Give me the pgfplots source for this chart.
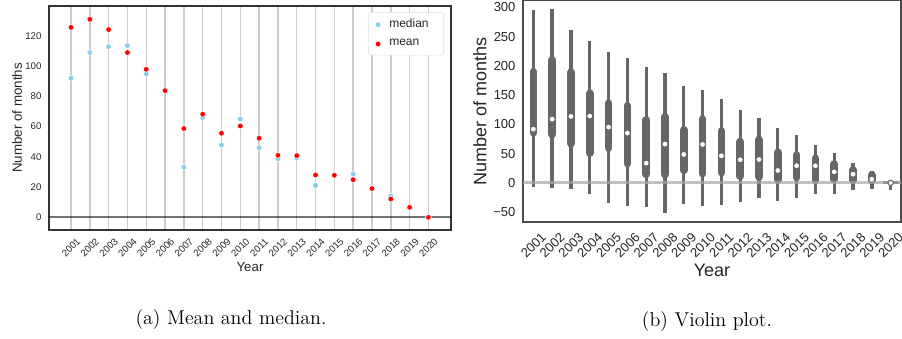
\documentclass[border=0pt]{standalone}
\usepackage{fontspec}
\usepackage{pgfplots}
\pgfplotsset{compat=1.18}
\newfontfamily\arial{Liberation Sans}
\definecolor{skyb}{RGB}{135,206,235}
\definecolor{vgray}{RGB}{102,102,102}
\definecolor{txt}{RGB}{38,38,38}
\begin{document}
\begin{tikzpicture}
\useasboundingbox (0,0) rectangle (541.2pt,-203.4pt);
% ---------------- (a) ----------------
\begin{axis}[
  at={(29.4pt,-138pt)}, anchor=south west, scale only axis,
  width=241.2pt, height=134.4pt,
  xmin=-1.17, xmax=20.2, ymin=-8.4, ymax=139.8,
  xtick={0,1,2,3,4,5,6,7,8,9,10,11,12,13,14,15,16,17,18,19},
  xticklabels={2001,2002,2003,2004,2005,2006,2007,2008,2009,2010,2011,2012,2013,2014,2015,2016,2017,2018,2019,2020},
  ytick={0,20,40,60,80,100,120},
  /pgf/number format/assume math mode=true,
  major tick length=0pt,
  tick label style={font=\arial\fontsize{5.8}{7}\selectfont, text=txt},
  xticklabel style={yshift=-10.5pt, rotate=45, anchor=center},
  yticklabel style={xshift=-1pt},
  xmajorgrids, major grid style={black!20, line width=0.9pt},
  axis line style={black!80, line width=0.9pt},
  xlabel={Year}, ylabel={Number of months},
  label style={font=\arial\fontsize{8}{9.5}\selectfont, text=txt},
  xlabel style={at={(axis description cs:0.5,-0.164)}, anchor=center},
  ylabel style={at={(axis description cs:-0.0796,0.5)}, anchor=center, rotate=0},
  legend style={at={(1,1)}, anchor=north east, xshift=-4.2pt, yshift=-3.6pt,
    draw=black!12, rounded corners=1.5pt, font=\arial\fontsize{7.2}{8.5}\selectfont,
    text=txt, inner xsep=4pt, inner ysep=2pt, row sep=1.6pt,
    nodes={inner xsep=5pt}},
  legend cell align=left,
  legend image code/.code={\draw[#1] plot coordinates {(0.2cm,0cm)};},
]
\addplot[only marks, mark=*, mark size=1.7pt, mark options={fill=skyb, draw=white, line width=0.3pt}]
coordinates {(0,92.0) (1,109.0) (2,112.9) (3,113.6) (4,94.9) (5,83.8) (6,33.1) (7,66.0) (8,47.9) (9,65.1)
 (10,46.1) (11,38.8) (12,39.3) (13,21.0) (14,27.8) (15,28.7) (16,19.0) (17,14.1) (18,6.6) (19,0)};
\addlegendentry{median}
\addplot[only marks, mark=*, mark size=1.7pt, mark options={fill=red, draw=white, line width=0.3pt}]
coordinates {(0,125.7) (1,131.0) (2,124.2) (3,109.0) (4,97.9) (5,83.8) (6,58.7) (7,68.2) (8,55.6) (9,60.4)
 (10,52.3) (11,41.0) (12,40.8) (13,28.0) (14,27.8) (15,24.9) (16,19.0) (17,12.1) (18,6.6) (19,0)};
\addlegendentry{mean}
\addplot[black, opacity=0.55, line width=1.1pt, forget plot] coordinates {(-1.17,0) (20.2,0)};
\end{axis}
\node[font=\fontsize{12}{14}\selectfont] at (138.6pt,-192pt) {(a) Mean and median.};
% ---------------- (b) ----------------
\begin{axis}[
  at={(313.8pt,-133.2pt)}, anchor=south west, scale only axis,
  width=226.8pt, height=133.2pt,
  xmin=-0.55, xmax=19.55, ymin=-67, ymax=312.5,
  xtick={0,1,2,3,4,5,6,7,8,9,10,11,12,13,14,15,16,17,18,19},
  xticklabels={2001,2002,2003,2004,2005,2006,2007,2008,2009,2010,2011,2012,2013,2014,2015,2016,2017,2018,2019,2020},
  ytick={-50,0,50,100,150,200,250,300},
  yticklabels={−50,0,50,100,150,200,250,300},
  major tick length=0pt,
  tick label style={font=\arial\fontsize{7.8}{9}\selectfont, text=txt},
  xticklabel style={yshift=-13.8pt, rotate=45, anchor=center},
  yticklabel style={xshift=-1pt},
  axis line style={black!70, line width=0.8pt},
  xlabel={Year}, ylabel={Number of months},
  label style={font=\arial\fontsize{10.8}{12}\selectfont, text=txt},
  xlabel style={at={(axis description cs:0.5,-0.216)}, anchor=center},
  ylabel style={at={(axis description cs:-0.114,0.5)}, anchor=center, rotate=0},
]
% whiskers (min to max)
\addplot[vgray, line width=2pt, unbounded coords=jump] coordinates {
 (0,-6.8) (0,295.4) (0,nan)
 (1,-9.7) (1,296.6) (1,nan)
 (2,-11.4) (2,261.2) (2,nan)
 (3,-19.4) (3,242.4) (3,nan)
 (4,-34.2) (4,224.1) (4,nan)
 (5,-39.9) (5,213.9) (5,nan)
 (6,-41.1) (6,198.5) (6,nan)
 (7,-51.3) (7,188.2) (7,nan)
 (8,-35.4) (8,165.4) (8,nan)
 (9,-39.9) (9,158.6) (9,nan)
 (10,-38.2) (10,143.2) (10,nan)
 (11,-32.5) (11,124.3) (11,nan)
 (12,-26.8) (12,111.2) (12,nan)
 (13,-31.9) (13,94.1) (13,nan)
 (14,-26.2) (14,81.0) (14,nan)
 (15,-18.3) (15,65.0) (15,nan)
 (16,-19.4) (16,50.8) (16,nan)
 (17,-12.5) (17,33.1) (17,nan)
 (18,-10.8) (18,20.0) (18,nan)
 (19,-12.5) (19,4.6)
};
% interquartile boxes
\addplot[vgray, line width=4.6pt, line cap=round, unbounded coords=jump] coordinates {
 (0,85.5) (0,190) (0,nan)
 (1,82.5) (1,210) (1,nan)
 (2,67) (2,189) (2,nan)
 (3,51) (3,153) (3,nan)
 (4,59.5) (4,136) (4,nan)
 (5,32.8) (5,132) (5,nan)
 (6,14.6) (6,107.5) (6,nan)
 (7,14) (7,113) (7,nan)
 (8,21.4) (8,90.4) (8,nan)
 (9,15.7) (9,109.2) (9,nan)
 (10,17.4) (10,88.7) (10,nan)
 (11,11.2) (11,70.4) (11,nan)
 (12,10) (12,73.8) (12,nan)
 (13,5.5) (13,52.2) (13,nan)
 (14,8.9) (14,47.6) (14,nan)
 (15,4.3) (15,41.9) (15,nan)
 (16,6) (16,32.2) (16,nan)
 (17,4.3) (17,21.9) (17,nan)
 (18,4.3) (18,13.4)
};
% 2020 flat body
\addplot[vgray, line width=1.6pt] coordinates {(18.58,0) (19.45,0)};
% zero line
\addplot[black!35, opacity=0.7, line width=1.8pt] coordinates {(-0.55,0) (19.55,0)};
% medians
\addplot[only marks, mark=*, mark size=1.3pt, mark options={fill=white, draw=white, line width=0.2pt}]
coordinates {(0,91.8) (1,108.9) (2,113.5) (3,114.1) (4,95.2) (5,85.0) (6,33.6) (7,66.2) (8,48.5) (9,65.6)
 (10,46.2) (11,39.4) (12,39.9) (13,21.1) (14,29.1) (15,29.1) (16,18.8) (17,14.8) (18,6.3)};
\addplot[only marks, mark=*, mark size=1.6pt, mark options={fill=white, draw=vgray, line width=0.6pt}]
coordinates {(19,0)};
\end{axis}
\node[font=\fontsize{12}{14}\selectfont] at (424.2pt,-193.2pt) {(b) Violin plot.};
\end{tikzpicture}
\end{document}
